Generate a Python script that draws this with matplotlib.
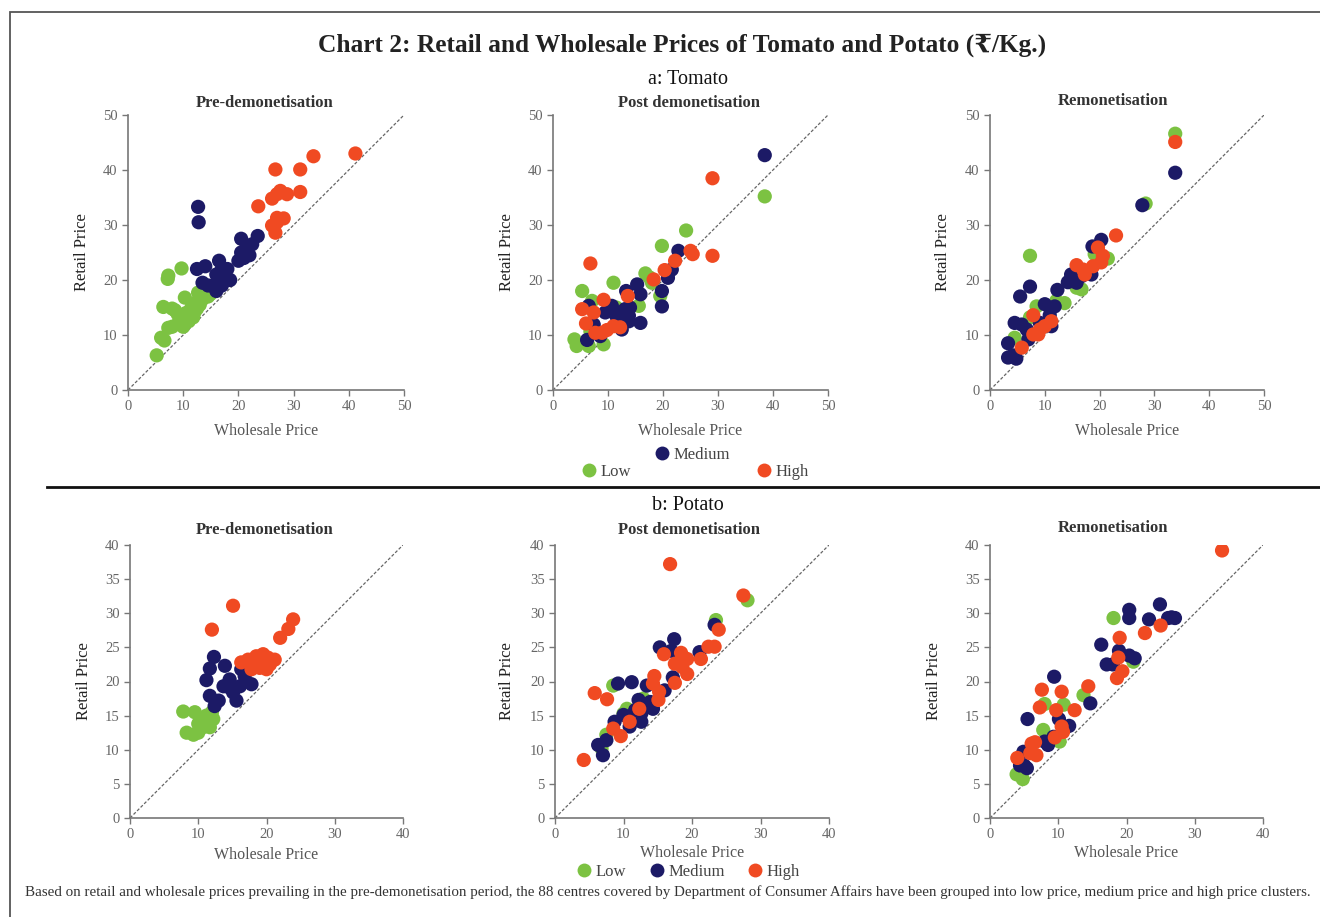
import numpy as np
import matplotlib
matplotlib.use("Agg")
import matplotlib.pyplot as plt
from matplotlib.lines import Line2D
from matplotlib.patches import Rectangle

plt.rcParams['font.family'] = ['Liberation Serif', 'DejaVu Serif']

# cluster colours
GREEN = "#7cc242"
NAVY = "#1c1a66"
RED = "#f04a22"

# ---------------- Tomato (wholesale, retail) ----------------
tom_pre_low = [(5.2, 6.3), (6.0, 9.5), (6.6, 9.0), (6.4, 15.1), (7.3, 20.8), (7.2, 20.2),
               (9.7, 22.1), (7.3, 11.3), (8.0, 11.5), (8.5, 14.5), (9.0, 12.0), (9.5, 13.0),
               (10.0, 11.5), (10.3, 16.8), (10.5, 14.0), (11.0, 12.5), (11.5, 15.0), (12.0, 14.0),
               (12.5, 16.0), (12.7, 17.7), (13.0, 15.5), (13.5, 16.5), (13.9, 18.3), (14.5, 17.0),
               (15.0, 17.5), (8.0, 14.8), (9.0, 13.8), (10.5, 12.8), (11.8, 13.2), (12.5, 14.8)]
tom_pre_med = [(12.7, 33.3), (12.8, 30.5), (12.5, 22.0), (14.0, 22.5), (13.5, 19.5), (14.5, 19.0),
               (15.5, 19.0), (16.0, 18.0), (16.5, 23.5), (17.0, 22.0), (17.5, 20.5), (18.0, 22.0),
               (18.5, 20.0), (17.0, 19.0), (20.0, 23.5), (20.5, 25.0), (20.5, 27.5), (21.5, 26.0),
               (22.0, 24.5), (22.5, 26.5), (23.5, 28.0), (21.0, 24.0), (16.0, 21.0)]
tom_pre_high = [(23.6, 33.4), (26.1, 34.8), (27.0, 35.6), (27.6, 36.2), (28.8, 35.6), (31.2, 36.0),
                (26.7, 40.1), (31.2, 40.1), (33.6, 42.5), (41.2, 43.0), (26.1, 29.9), (27.0, 31.3),
                (26.7, 28.6), (28.2, 31.2), (27.0, 30.5)]

tom_post_low = [(38.5, 35.2), (24.2, 29.0), (19.8, 26.2), (16.8, 21.2), (18.0, 19.5), (19.5, 17.1),
                (5.3, 18.0), (11.0, 19.5), (15.6, 15.3), (7.1, 16.2), (3.9, 9.2), (4.3, 8.0),
                (6.5, 8.0), (9.2, 8.3), (6.8, 10.7), (11.5, 15.0), (17.5, 20.5)]
tom_post_med = [(38.5, 42.7), (22.8, 25.3), (21.6, 21.9), (20.9, 20.4), (19.8, 18.0), (19.8, 15.2),
                (15.3, 19.2), (15.9, 17.4), (13.3, 18.0), (15.9, 12.2), (6.5, 15.3), (10.7, 15.3),
                (9.5, 14.1), (12.5, 14.1), (13.1, 14.7), (13.8, 13.5), (12.5, 12.8), (13.8, 12.5),
                (7.4, 11.9), (12.5, 11.0), (8.6, 9.8), (6.2, 9.1), (11.5, 13.5), (14.0, 15.0)]
tom_post_high = [(29.0, 38.5), (25.0, 25.3), (25.4, 24.7), (29.0, 24.4), (22.2, 23.5), (20.3, 21.8),
                 (18.3, 20.1), (6.8, 23.0), (13.6, 17.1), (9.2, 16.4), (5.3, 14.7), (7.4, 14.1),
                 (6.0, 12.1), (7.7, 10.4), (8.9, 10.4), (9.8, 10.9), (11.0, 11.6), (12.2, 11.4)]

tom_rem_low = [(33.8, 46.6), (28.4, 33.9), (21.5, 23.9), (19.1, 24.7), (15.8, 18.6), (16.7, 18.3),
               (7.3, 24.4), (12.1, 16.2), (13.6, 15.8), (8.5, 15.2), (7.3, 13.2), (4.5, 9.5)]
tom_rem_med = [(33.8, 39.5), (27.8, 33.6), (20.3, 27.3), (18.7, 26.1), (18.5, 21.0), (16.7, 20.7),
               (14.8, 21.0), (14.2, 19.6), (15.8, 19.5), (7.3, 18.8), (5.5, 17.0), (12.3, 18.2),
               (10.0, 15.6), (11.8, 15.2), (10.9, 13.6), (4.5, 12.2), (5.8, 11.9), (6.7, 11.0),
               (9.1, 12.2), (11.2, 11.6), (7.0, 9.2), (3.3, 8.5), (3.3, 5.9), (4.8, 5.7), (4.2, 6.3)]
tom_rem_high = [(33.8, 45.1), (23.0, 28.1), (19.7, 25.9), (20.6, 24.4), (20.3, 23.2), (18.8, 22.5),
                (17.0, 21.9), (15.8, 22.7), (17.3, 21.0), (7.9, 13.6), (11.2, 12.5), (10.0, 11.6),
                (9.1, 11.0), (7.9, 10.1), (8.8, 10.1), (5.8, 7.7)]

# ---------------- Potato (wholesale, retail) ----------------
pot_pre_low = [(7.8, 15.6), (8.3, 12.5), (9.3, 12.2), (9.5, 15.5), (10.0, 13.8), (10.5, 14.5),
               (11.2, 15.0), (12.0, 15.5), (12.2, 14.5), (10.7, 13.3), (11.7, 13.3), (10.0, 12.5)]
pot_pre_med = [(12.3, 23.6), (11.7, 21.9), (11.2, 20.2), (13.9, 22.3), (16.3, 21.8), (11.7, 17.9),
               (13.0, 17.2), (13.7, 19.3), (14.6, 20.3), (15.1, 18.4), (16.1, 19.3), (17.8, 19.6),
               (15.6, 17.2), (12.4, 16.4), (14.6, 19.1), (16.8, 20.8)]
pot_pre_high = [(15.1, 31.1), (12.0, 27.6), (23.9, 29.1), (23.2, 27.7), (22.0, 26.4), (16.3, 22.8),
                (17.3, 23.2), (18.5, 23.7), (19.5, 24.0), (20.2, 23.5), (21.2, 23.2), (17.8, 21.8),
                (19.0, 22.0), (20.0, 21.8), (19.3, 22.8), (20.5, 22.5)]

pot_post_low = [(28.1, 31.9), (23.5, 29.0), (8.5, 19.4), (10.5, 16.0), (10.0, 15.3), (12.9, 17.5),
                (7.5, 12.2), (6.8, 10.2)]
pot_post_med = [(23.3, 28.3), (17.4, 26.2), (15.3, 25.0), (17.0, 24.5), (21.1, 24.3), (17.2, 20.6),
                (16.0, 18.7), (13.4, 19.4), (9.2, 19.7), (11.2, 19.9), (12.2, 17.3), (13.4, 16.3),
                (12.6, 15.3), (13.9, 17.0), (14.3, 16.0), (12.6, 14.1), (8.7, 14.1), (10.9, 13.4),
                (7.5, 11.4), (6.3, 10.7), (7.0, 9.2), (10.0, 15.1), (11.7, 15.8)]
pot_post_high = [(16.8, 37.2), (27.5, 32.6), (23.9, 27.6), (15.9, 24.0), (18.4, 24.2), (19.3, 23.3),
                 (17.5, 22.6), (18.6, 22.1), (19.3, 21.1), (22.4, 25.1), (23.3, 25.1), (21.3, 23.3),
                 (17.5, 19.8), (14.5, 20.8), (14.3, 19.7), (15.2, 18.5), (15.1, 17.3), (5.8, 18.3),
                 (7.6, 17.4), (12.3, 16.0), (10.9, 14.1), (8.5, 13.1), (9.6, 12.0), (4.2, 8.5)]

pot_rem_low = [(18.1, 29.3), (21.0, 22.9), (13.7, 18.0), (8.0, 16.7), (10.8, 16.6), (7.8, 12.9),
               (10.2, 11.2), (3.9, 6.4), (4.8, 5.7)]
pot_rem_med = [(24.9, 31.3), (20.4, 30.5), (20.4, 29.3), (23.3, 29.1), (26.1, 29.3), (27.1, 29.3),
               (26.6, 29.4), (16.3, 25.4), (18.9, 24.5), (20.4, 23.8), (21.2, 23.4), (17.1, 22.5),
               (18.0, 22.5), (9.4, 20.7), (14.7, 16.8), (5.5, 14.5), (10.1, 14.5), (11.6, 13.5),
               (9.3, 11.9), (8.0, 11.2), (8.5, 10.7), (4.9, 9.7), (5.0, 7.7), (5.4, 7.3), (4.4, 7.7)]
pot_rem_high = [(34.0, 39.2), (22.7, 27.1), (25.0, 28.2), (19.0, 26.4), (18.8, 23.5), (19.4, 21.5),
                (18.6, 20.5), (7.6, 18.8), (10.5, 18.5), (14.4, 19.3), (7.3, 16.2), (9.7, 15.8),
                (12.4, 15.8), (10.5, 13.4), (10.7, 12.6), (9.5, 11.8), (6.1, 10.9), (6.6, 11.1),
                (6.8, 9.2), (5.9, 9.5), (4.0, 8.8)]

W, H = 1320, 917
fig = plt.figure(figsize=(W / 100, H / 100), dpi=100, facecolor='white')


def box(l, r, t, b):
    return [l / W, 1 - b / H, (r - l) / W, (b - t) / H]


def panel(rect, groups, lim, yticks, xticks, title, title_x, title_y, ylab_x, xlab_y):
    ax = fig.add_axes(rect)
    ax.plot([0, lim], [0, lim], color='#666666', lw=0.9, ls=(0, (2.5, 1.5)), zorder=1)
    for pts, col in zip(groups, [GREEN, NAVY, RED]):
        pts = np.array(pts)
        ax.scatter(pts[:, 0], pts[:, 1], s=105, color=col, edgecolor='none', zorder=3)
    ax.set_xlim(0, lim)
    ax.set_ylim(0, lim)
    ax.set_xticks(xticks)
    ax.set_yticks(yticks)
    for s in ['top', 'right']:
        ax.spines[s].set_visible(False)
    for s in ['left', 'bottom']:
        ax.spines[s].set_color('#777777')
        ax.spines[s].set_linewidth(1.2)
    ax.tick_params(direction='out', length=4, width=1, color='#777777',
                   labelcolor='#666666', labelsize=10.5)
    ax.set_xlabel('Wholesale Price', fontsize=11.5, color='#555555')
    ax.set_ylabel('Retail Price', fontsize=12, color='#222222')
    # label coords: top edge of x label, right edge of y label
    ax.xaxis.set_label_coords(0.5, -(xlab_y - 7 - (1 - rect[1]) * H) / (rect[3] * H))
    ax.yaxis.set_label_coords(-(rect[0] * W - ylab_x - 8) / (rect[2] * W), 0.5)
    fig.text(title_x / W, 1 - title_y / H, title, ha='center', va='center',
             fontsize=12, fontweight='bold', color='#333333')
    return ax


tom_ticks = [0, 10, 20, 30, 40, 50]
pot_yticks = [0, 5, 10, 15, 20, 25, 30, 35, 40]
pot_xticks = [0, 10, 20, 30, 40]

panel(box(128, 404, 115, 390), [tom_pre_low, tom_pre_med, tom_pre_high], 50, tom_ticks, tom_ticks,
      'Pre-demonetisation', 265, 103, 82, 430)
panel(box(553, 828, 115, 390), [tom_post_low, tom_post_med, tom_post_high], 50, tom_ticks, tom_ticks,
      'Post demonetisation', 689, 103, 507, 430)
panel(box(990, 1264, 115, 390), [tom_rem_low, tom_rem_med, tom_rem_high], 50, tom_ticks, tom_ticks,
      'Remonetisation', 1113, 101, 943, 430)

panel(box(130, 403, 545, 818), [pot_pre_low, pot_pre_med, pot_pre_high], 40, pot_yticks, pot_xticks,
      'Pre-demonetisation', 265, 530, 84, 854)
panel(box(555, 829, 545, 818), [pot_post_low, pot_post_med, pot_post_high], 40, pot_yticks, pot_xticks,
      'Post demonetisation', 689, 530, 507, 852)
panel(box(990, 1263, 545, 818), [pot_rem_low, pot_rem_med, pot_rem_high], 40, pot_yticks, pot_xticks,
      'Remonetisation', 1113, 528, 934, 852)

# titles
fig.text(682 / W, 1 - 45 / H, 'Chart 2: Retail and Wholesale Prices of Tomato and Potato (₹/Kg.)',
         ha='center', va='center', fontsize=18.3, fontweight='bold', color='#222222')
fig.text(688 / W, 1 - 80 / H, 'a: Tomato', ha='center', va='center', fontsize=14.5, color='#111111')
fig.text(688 / W, 1 - 506 / H, 'b: Potato', ha='center', va='center', fontsize=14.5, color='#111111')


# legends
def handle(col, lab):
    return Line2D([], [], marker='o', ls='none', markersize=10, markerfacecolor=col,
                  markeredgecolor='none', label=lab)


for col, lab, px, py in [(NAVY, 'Medium', 654, 455), (GREEN, 'Low', 581, 472), (RED, 'High', 756, 472)]:
    fig.legend(handles=[handle(col, lab)], loc='center left', bbox_to_anchor=(px / W, 1 - py / H),
               frameon=False, fontsize=12, handletextpad=0.2, handlelength=1.0, borderpad=0,
               borderaxespad=0, labelcolor='#444444')

fig.legend(handles=[handle(GREEN, 'Low'), handle(NAVY, 'Medium'), handle(RED, 'High')],
           loc='center left', bbox_to_anchor=(576 / W, 1 - 872 / H), ncol=3, frameon=False,
           fontsize=12, handletextpad=0.2, handlelength=1.0, columnspacing=1.3, borderpad=0,
           borderaxespad=0, labelcolor='#444444')

fig.text(25 / W, 1 - 892 / H,
         'Based on retail and wholesale prices prevailing in the pre-demonetisation period, the 88 centres '
         'covered by Department of Consumer Affairs have been grouped into low price, medium price and '
         'high price clusters.', ha='left', va='center', fontsize=10.8, color='#333333')

# frame and separator
fig.add_artist(Rectangle((10 / W, -0.05), 1.1, 1 - 12 / H + 0.05, transform=fig.transFigure,
                         fill=False, edgecolor='#555555', lw=1.3))
fig.add_artist(Line2D([47 / W, 1.0], [1 - 487 / H, 1 - 487 / H], transform=fig.transFigure,
                      color='#111111', lw=2))

fig.savefig('out.png', dpi=100, facecolor='white')
